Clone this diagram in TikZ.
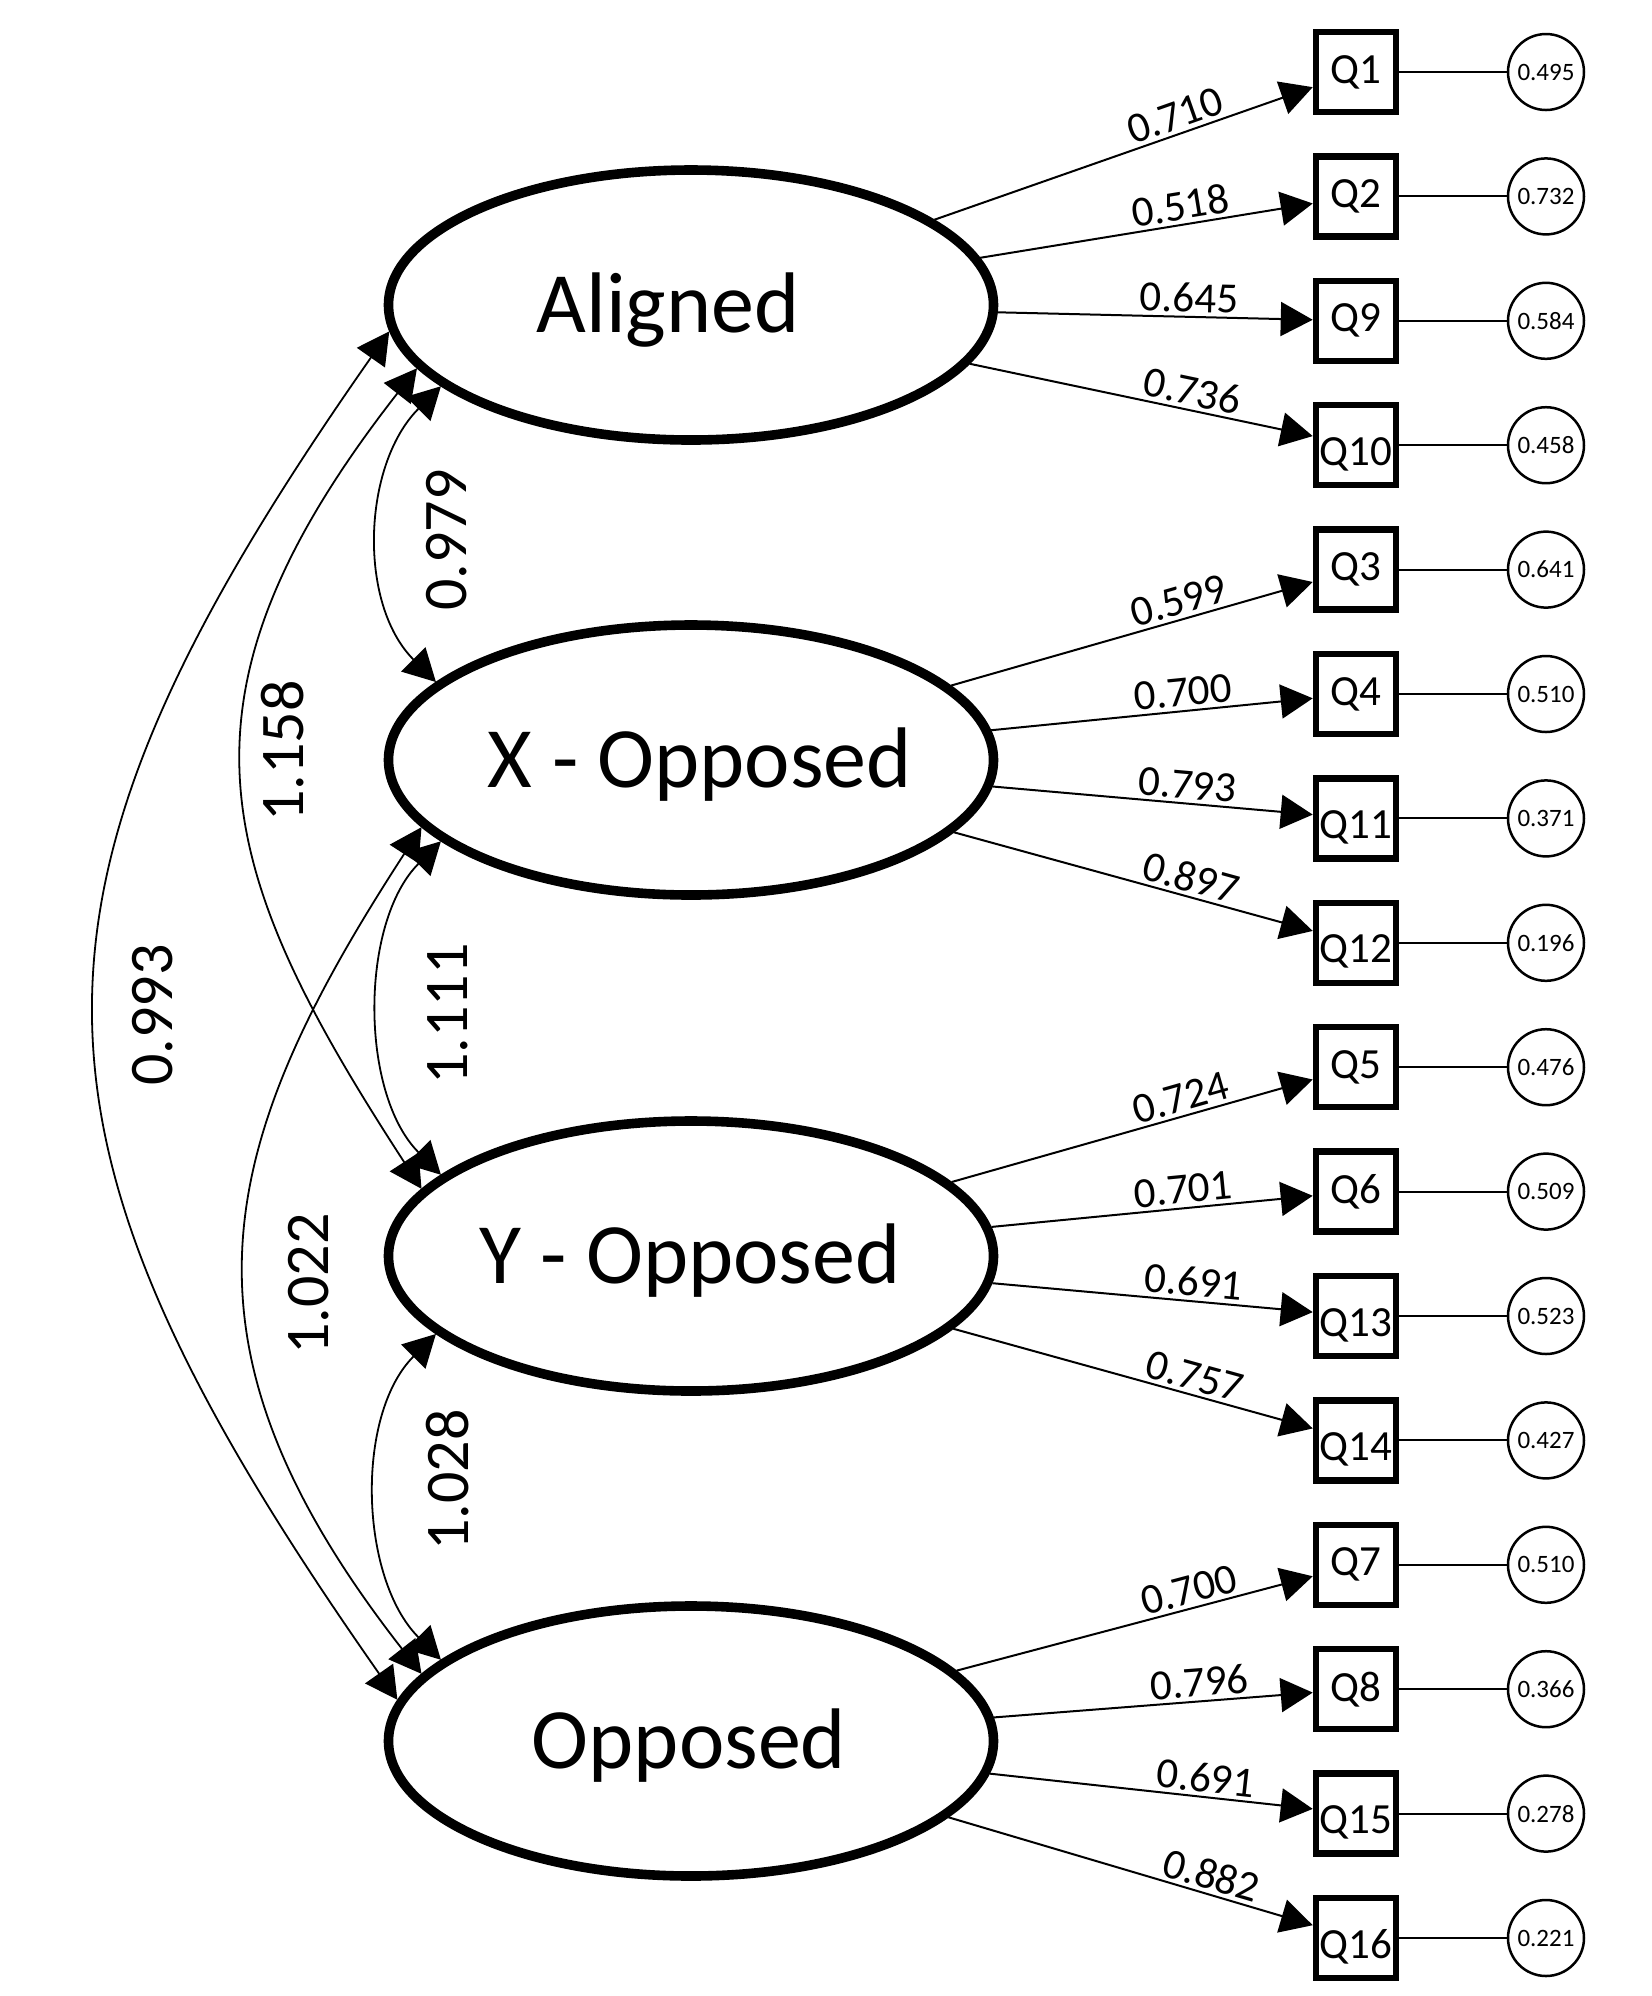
\documentclass[tikz,border=0pt]{standalone}
\usepackage{fontspec}
\setmainfont{Carlito}
\usetikzlibrary{arrows.meta,shapes.geometric}
\begin{document}
% one coordinate unit = 0.25pt
\begin{tikzpicture}[x=0.25pt,y=0.25pt,
  latent/.style={draw, ellipse, line width=2.4pt, minimum width=151.25pt,
    minimum height=67.5pt, inner sep=0pt, fill=white},
  ltxt/.style={font=\fontsize{21.5}{21.5}\selectfont, anchor=base, inner sep=0pt},
  obs/.style={draw, rectangle, line width=1.625pt, minimum size=20pt, inner sep=0pt},
  qtxt/.style={font=\fontsize{10.75}{10.75}\selectfont, inner sep=0pt},
  err/.style={draw, circle, line width=0.625pt, minimum size=19pt, inner sep=0pt,
    font=\fontsize{6.25}{6.25}\selectfont},
  tip/.tip={Triangle[length=8pt,width=8.5pt]},
  load/.style={line width=0.5pt, -tip},
  cov/.style={line width=0.45pt, tip-tip},
  res/.style={line width=0.5pt},
  lab/.style={font=\fontsize{10.75}{10.75}\selectfont, sloped, above, inner sep=0.9pt},
  clab/.style={font=\fontsize{15.5}{15.5}\selectfont, rotate=90, inner sep=0pt}]

\useasboundingbox (0,0) rectangle (1652,-1996);

% latent factors
\node[latent] (al) at (691,-305) {};
\node[latent] (xo) at (691,-760) {};
\node[latent] (yo) at (691,-1256) {};
\node[latent] (op) at (691,-1741) {};
\node[ltxt] (alt) at (668,-332) {Aligned};
\node[ltxt] (xot) at (700,-787) {X - Opposed};
\node[ltxt] (yot) at (690,-1283) {Y - Opposed};
\node[ltxt] (opt) at (689,-1768) {Opposed};

% indicators, loadings (label position along the arrow) and residual variances
\foreach \q/\lat/\ld/\lp/\rv/\dy [count=\i from 0] in {
  1/al/0.710/0.652/0.495/0,      2/al/0.518/0.611/0.732/0,
  9/al/0.645/0.606/0.584/0,      10/al/0.736/0.638/0.458/-2.25,
  3/xo/0.599/0.643/0.641/0,      4/xo/0.700/0.602/0.510/0,
  11/xo/0.793/0.604/0.371/-2.25, 12/xo/0.897/0.647/0.196/-2.25,
  5/yo/0.724/0.649/0.476/0,      6/yo/0.701/0.602/0.509/0,
  13/yo/0.691/0.624/0.523/-2.25, 14/yo/0.757/0.658/0.427/-2.25,
  7/op/0.700/0.666/0.510/0,      8/op/0.796/0.650/0.366/0,
  15/op/0.691/0.663/0.278/-2.25, 16/op/0.882/0.708/0.221/-2.25}
{
  \node[obs] (q\q) at (1356,{-72-124.4*\i}) {};
  \node[qtxt] (t\q) at ([yshift=\dy pt]q\q.center) {Q\q};
  \node[err] (e\q) at (1546,{-72-124.4*\i}) {\rv};
  \draw[load] (\lat) -- node[lab, pos=\lp] {\ld} (q\q);
  \draw[res] (q\q) -- (e\q);
}

% factor covariances
\draw[cov] (al.198) to[out=225,in=135,distance=27.75pt] (xo.163);
\draw[cov] (xo.198) to[out=225,in=135,distance=28.75pt] (yo.162);
\draw[cov] (yo.197) to[out=225,in=135,distance=28.75pt] (op.162);
\draw[cov] (al.193) to[out=232,in=123,out distance=105pt,in distance=95pt] (yo.166);
\draw[cov] (xo.194) to[out=237,in=128,out distance=95pt,in distance=105pt] (op.166);
\draw[cov] (al.185) to[out=235,in=125,distance=172.5pt] (op.172);

\node[clab] (c1) at (447,-540) {0.979};
\node[clab] (c2) at (448,-1014) {1.111};
\node[clab] (c3) at (448,-1480) {1.028};
\node[clab] (c4) at (283,-751) {1.158};
\node[clab] (c5) at (309,-1284) {1.022};
\node[clab] (c6) at (153,-1015) {0.993};
\end{tikzpicture}
\end{document}
